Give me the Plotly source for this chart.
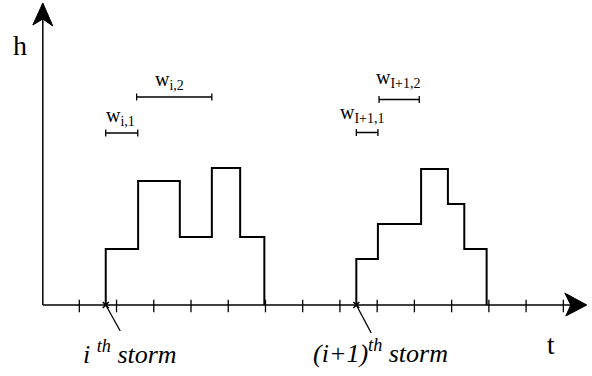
import plotly.graph_objects as go

# ---- data (t in tick units, h in arbitrary units) ----
TICKS_T = list(range(14))

STORM1_T = [0.71, 1.58, 2.70, 3.56, 4.32, 4.97]
STORM1_H = [5.6, 12.4, 6.8, 13.7, 6.8]
STORM2_T = [7.44, 8.02, 9.18, 9.90, 10.34, 10.94]
STORM2_H = [4.6, 8.1, 13.6, 10.1, 5.6]

# duration bars: (label, t start, t end, height)
W_LABELS = ["w<sub>i,1</sub>", "w<sub>i,2</sub>", "w<sub>I+1,1</sub>", "w<sub>I+1,2</sub>"]
W_START = [0.71, 1.54, 7.44, 8.05]
W_END = [1.57, 3.56, 8.02, 9.13]
W_H = [17.2, 20.8, 17.25, 20.55]
W_LABEL_T = [1.10, 2.42, 7.60, 8.58]
W_LABEL_H = [18.9, 22.5, 19.2, 22.7]

STORM_LABELS = ["<i>i <sup>th</sup> storm</i>", "<i>(i+1)<sup>th</sup> storm</i>"]
STORM_LABEL_T = [1.36, 8.08]
STORM_LABEL_H = [-4.7, -4.6]
POINTER_END_T = [1.10, 7.84]
POINTER_END_H = [-2.6, -2.8]

# axes geometry
T_ORIGIN = -0.98
T_END = 13.63
H_END = 30.2

# pixel scale of the axes (used only for arrowheads)
PX_T = 37.23
PX_H = 10.0

FONT = "Liberation Serif, Times New Roman, serif"


def step_xy(ts, hs):
    x = [ts[0]] + ts
    y = [0] + hs + [0]
    return x, y


def arrowhead(tip_t, tip_h, direction):
    # barbed arrowhead, sizes in pixels, converted to data units
    L, W, N = 22, 10, 16
    if direction == "up":
        pts = [(0, 0), (-W, -L), (0, -N), (W, -L - 1)]
    else:
        pts = [(0, 0), (-L, 12), (-N, 0), (-L + 1, -11)]
    return ([tip_t + dx / PX_T for dx, dy in pts] + [tip_t],
            [tip_h + dy / PX_H for dx, dy in pts] + [tip_h])


fig = go.Figure()

# axes lines
fig.add_trace(go.Scatter(x=[T_ORIGIN, T_END - 0.3], y=[0, 0], mode="lines",
                         line=dict(color="black", width=1.5), hoverinfo="skip"))
fig.add_trace(go.Scatter(x=[T_ORIGIN, T_ORIGIN], y=[0, H_END - 1.5], mode="lines",
                         line=dict(color="black", width=1.5), hoverinfo="skip"))
for d, tip in (("up", (T_ORIGIN, H_END)), ("right", (T_END, 0))):
    ax, ay = arrowhead(tip[0], tip[1], d)
    fig.add_trace(go.Scatter(x=ax, y=ay, mode="lines", fill="toself",
                             fillcolor="black", line=dict(color="black", width=1),
                             hoverinfo="skip"))

# ticks
fig.add_trace(go.Scatter(x=TICKS_T, y=[-0.1] * len(TICKS_T), mode="markers",
                         marker=dict(symbol="line-ns", size=9,
                                     line=dict(color="black", width=1.3)),
                         hoverinfo="skip"))

# storm hydrographs
for ts, hs in ((STORM1_T, STORM1_H), (STORM2_T, STORM2_H)):
    x, y = step_xy(ts, hs)
    fig.add_trace(go.Scatter(x=x, y=y, mode="lines", line_shape="hv",
                             line=dict(color="black", width=2), hoverinfo="skip"))

# duration bars
for t0, t1, h in zip(W_START, W_END, W_H):
    fig.add_trace(go.Scatter(x=[t0, t1], y=[h, h], mode="lines+markers",
                             line=dict(color="black", width=1.5),
                             marker=dict(symbol="line-ns", size=5,
                                         line=dict(color="black", width=1.3)),
                             hoverinfo="skip"))

# storm pointers
for t0, t1, h1 in zip((STORM1_T[0], STORM2_T[0]), POINTER_END_T, POINTER_END_H):
    fig.add_trace(go.Scatter(x=[t0, t1], y=[0, h1], mode="lines",
                             line=dict(color="black", width=1.3), hoverinfo="skip"))
fig.add_trace(go.Scatter(x=[STORM1_T[0], STORM2_T[0]], y=[0, 0], mode="markers",
                         marker=dict(symbol="x-thin", size=6,
                                     line=dict(color="black", width=1.5)),
                         hoverinfo="skip"))

annotations = [
    dict(x=-1.58, y=26.0, text="h", font=dict(size=28)),
    dict(x=12.67, y=-4.0, text="t", font=dict(size=27)),
]
for txt, t, h in zip(W_LABELS, W_LABEL_T, W_LABEL_H):
    annotations.append(dict(x=t, y=h, text=txt, font=dict(size=20)))
for txt, t, h in zip(STORM_LABELS, STORM_LABEL_T, STORM_LABEL_H):
    annotations.append(dict(x=t, y=h, text=txt, font=dict(size=26)))
for a in annotations:
    a.update(xref="x", yref="y", showarrow=False)
    a["font"].update(family=FONT, color="black")

fig.update_layout(
    width=592, height=376,
    margin=dict(l=0, r=0, t=0, b=0),
    paper_bgcolor="white", plot_bgcolor="white",
    showlegend=False,
    xaxis=dict(range=[-2.13, 13.77], visible=False, fixedrange=True),
    yaxis=dict(range=[-7.1, 30.5], visible=False, fixedrange=True),
    annotations=annotations,
)

# the page's default body margin would push the figure 8px in
fig.write_html("out.html", config={"displayModeBar": False},
               post_script="document.body.style.margin='0px';")
